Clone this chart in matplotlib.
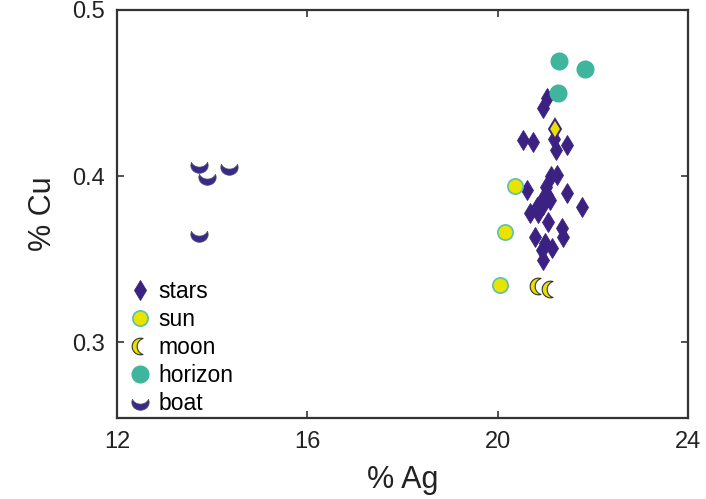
import numpy as np
import matplotlib.pyplot as plt
from matplotlib.path import Path

plt.rcParams['font.family'] = ['Liberation Sans', 'DejaVu Sans']

# % Ag, % Cu for each group
stars_ag = [21.04, 20.95, 21.19, 21.46, 21.23, 20.53, 20.74, 21.12, 21.25, 20.62,
            21.02, 21.46, 21.77, 20.93, 21.10, 20.83, 20.68, 20.95, 21.04, 20.85,
            21.06, 21.35, 21.37, 20.79, 21.00, 21.14, 20.93, 20.95]
stars_cu = [0.4470, 0.4410, 0.4223, 0.4187, 0.4157, 0.4217, 0.4205, 0.4000, 0.4006, 0.3916,
            0.3934, 0.3898, 0.3813, 0.3855, 0.3855, 0.3813, 0.3777, 0.3825, 0.3886, 0.3777,
            0.3723, 0.3687, 0.3633, 0.3633, 0.3596, 0.3566, 0.3554, 0.3494]
star_odd_ag = [21.21]
star_odd_cu = [0.4283]

sun_ag = [20.36, 20.15, 20.05]
sun_cu = [0.3940, 0.3663, 0.3343]

moon_ag = [20.85, 21.10]
moon_cu = [0.3337, 0.3320]

horizon_ag = [21.29, 21.84, 21.27]
horizon_cu = [0.4693, 0.4645, 0.4500]

boat_ag = [13.72, 13.89, 14.35, 13.72]
boat_cu = [0.4066, 0.3997, 0.4054, 0.3651]


def crescent(d, yscale=1.0, rot=0.0, n=40):
    a = np.arcsin(d / 2)
    t1 = np.linspace(np.pi - a, 2 * np.pi + a, n)
    outer = np.column_stack([np.cos(t1), np.sin(t1)])
    t2 = np.linspace(-a, -np.pi + a, n)
    inner = np.column_stack([np.cos(t2), np.sin(t2) + d])
    pts = np.vstack([outer, inner, outer[:1]])
    pts[:, 1] *= yscale
    c, s = np.cos(rot), np.sin(rot)
    pts = pts @ np.array([[c, s], [-s, c]])
    return Path(pts, closed=True)


boat_marker = crescent(0.8, yscale=0.9)
moon_marker = crescent(0.6, rot=-np.pi / 2)

purple = '#3b2282'

fig = plt.figure(figsize=(7.06, 4.99), dpi=100)
ax = fig.add_axes([0.1657, 0.1623, 0.8088, 0.8177])

ax.plot(stars_ag, stars_cu, 'd', ms=10.5, mfc=purple, mec=purple, mew=0.6,
        ls='none', label='stars')
ax.plot(star_odd_ag, star_odd_cu, 'd', ms=10.5, mfc='#e8e000', mec=purple, mew=1.4,
        ls='none')
ax.plot(sun_ag, sun_cu, 'o', ms=11, mfc='#e8e400', mec='#5cc0b0', mew=1.2,
        ls='none', label='sun')
ax.plot(moon_ag, moon_cu, marker=moon_marker, ms=12, mfc='#e8e000', mec='#333333',
        mew=0.8, ls='none', label='moon')
ax.plot(horizon_ag, horizon_cu, 'o', ms=12, mfc='#3fb59e', mec='#3fb59e',
        ls='none', label='horizon')
ax.plot(boat_ag, boat_cu, marker=boat_marker, ms=12.5, mfc='#382a88', mec='#555566',
        mew=0.5, ls='none', label='boat')

ax.set_xlim(12, 24)
ax.set_ylim(0.2545, 0.5)
ax.set_xticks([12, 16, 20, 24])
ax.set_yticks([0.3, 0.4, 0.5])
ax.tick_params(direction='in', length=5, width=1.2, labelsize=17, pad=9,
               colors='#333333', labelcolor='#222222',
               top=True, right=True)
for sp in ax.spines.values():
    sp.set_color('#333333')
    sp.set_linewidth(1.6)

ax.set_xlabel('% Ag', fontsize=22, color='#222222', labelpad=9)
ax.set_ylabel('% Cu', fontsize=22, color='#222222', labelpad=10)

ax.legend(loc='lower left', bbox_to_anchor=(0.0, -0.02), frameon=False,
          fontsize=16.5, handlelength=1.0, handletextpad=0.3, labelspacing=0.22,
          borderaxespad=0.1, borderpad=0.4)

fig.savefig('out.png', dpi=100)
